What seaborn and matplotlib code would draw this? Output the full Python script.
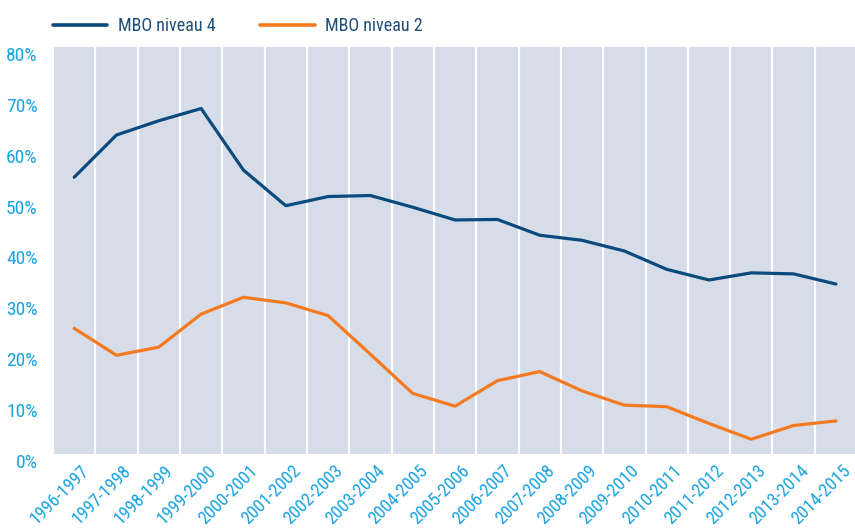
import pandas as pd
import matplotlib
matplotlib.use('Agg')
import matplotlib.pyplot as plt
import matplotlib.transforms as mtransforms
from matplotlib import font_manager
from matplotlib.ticker import FixedLocator, PercentFormatter
import seaborn as sns

# 数据
years = ['1996-1997', '1997-1998', '1998-1999', '1999-2000', '2000-2001',
         '2001-2002', '2002-2003', '2003-2004', '2004-2005', '2005-2006',
         '2006-2007', '2007-2008', '2008-2009', '2009-2010', '2010-2011',
         '2011-2012', '2012-2013', '2013-2014', '2014-2015']
mbo4 = [54.4, 62.7, 65.5, 67.9, 55.8, 48.8, 50.6, 50.8, 48.5, 46.0,
        46.1, 43.0, 42.0, 39.9, 36.3, 34.2, 35.6, 35.4, 33.4]
mbo2 = [24.7, 19.4, 21.0, 27.5, 30.8, 29.7, 27.2, 19.6, 11.9, 9.4,
        14.4, 16.2, 12.4, 9.6, 9.3, 6.0, 2.9, 5.6, 6.5]
series_names = ['MBO niveau 4', 'MBO niveau 2']
colors = ['#0b4a7d', '#f47a20']

BG = '#d7dce9'
TICK_COLOR = '#1aa3e0'
TEXT_BLUE = '#1f4e79'

df = pd.DataFrame({
    'pos': list(range(len(years))) * 2,
    'value': mbo4 + mbo2,
    'serie': [series_names[0]] * len(years) + [series_names[1]] * len(years),
})

sns.set_style('white')

# 找一个窄体字体（类似 Myriad Condensed）
fonts = font_manager.fontManager.ttflist
names = {f.name for f in fonts}
stretch = 'normal'
if 'Liberation Sans Narrow' in names:
    family = ['Liberation Sans Narrow', 'DejaVu Sans']
elif 'Roboto Condensed' in names:
    family = ['Roboto Condensed', 'DejaVu Sans']
elif any(f.name == 'DejaVu Sans' and f.stretch in ('condensed', 'semi-condensed') for f in fonts):
    family = ['DejaVu Sans']
    stretch = 'condensed'
else:
    family = ['Roboto', 'DejaVu Sans']
plt.rcParams['font.family'] = family
plt.rcParams['font.stretch'] = stretch
narrow = stretch == 'condensed' or family[0] != 'Roboto'
xsize = 13 if narrow else 12
ysize = 14 if narrow else 12.5
lsize = 13 if narrow else 12

fig = plt.figure(figsize=(8.55, 5.29), dpi=100)
ax = fig.add_axes([0.062, 0.1418, 0.938, 0.7694])
ax.set_facecolor(BG)

sns.lineplot(data=df, x='pos', y='value', hue='serie', palette=colors,
             linewidth=2.3, ax=ax, sort=False)

ax.set_xlim(-0.5, len(years) - 0.55)
ax.set_ylim(0, 80)

# 分隔线（白色竖线）
ax.xaxis.set_minor_locator(FixedLocator([i - 0.5 for i in range(len(years) + 1)]))
ax.grid(which='minor', axis='x', color='white', linewidth=1.6)
ax.grid(which='major', visible=False)
ax.tick_params(which='both', length=0)

ax.set_xticks(range(len(years)))
ax.set_xticklabels(years, rotation=45, ha='right', va='center',
                   rotation_mode='anchor', fontsize=xsize, color=TICK_COLOR)
offset = mtransforms.ScaledTranslation(12 / 100, -9 / 100, fig.dpi_scale_trans)
for lbl in ax.get_xticklabels():
    lbl.set_transform(lbl.get_transform() + offset)

ax.set_yticks(range(0, 81, 10))
ax.yaxis.set_major_formatter(PercentFormatter(decimals=0))
ax.tick_params(axis='y', labelsize=ysize, labelcolor=TICK_COLOR, pad=11)
yoff = mtransforms.ScaledTranslation(0, -7 / 100, fig.dpi_scale_trans)
for lbl in ax.get_yticklabels():
    lbl.set_transform(lbl.get_transform() + yoff)

ax.set_xlabel('')
ax.set_ylabel('')
for s in ax.spines.values():
    s.set_visible(False)

leg = ax.legend(loc='lower left', bbox_to_anchor=(-0.009, 1.012), ncol=2,
                frameon=False, fontsize=lsize, handlelength=3.0,
                columnspacing=2.5, handletextpad=0.58, borderaxespad=0)
for t in leg.get_texts():
    t.set_color(TEXT_BLUE)
for h in leg.get_lines():
    h.set_linewidth(2.6)

fig.savefig('out.png', dpi=100)
